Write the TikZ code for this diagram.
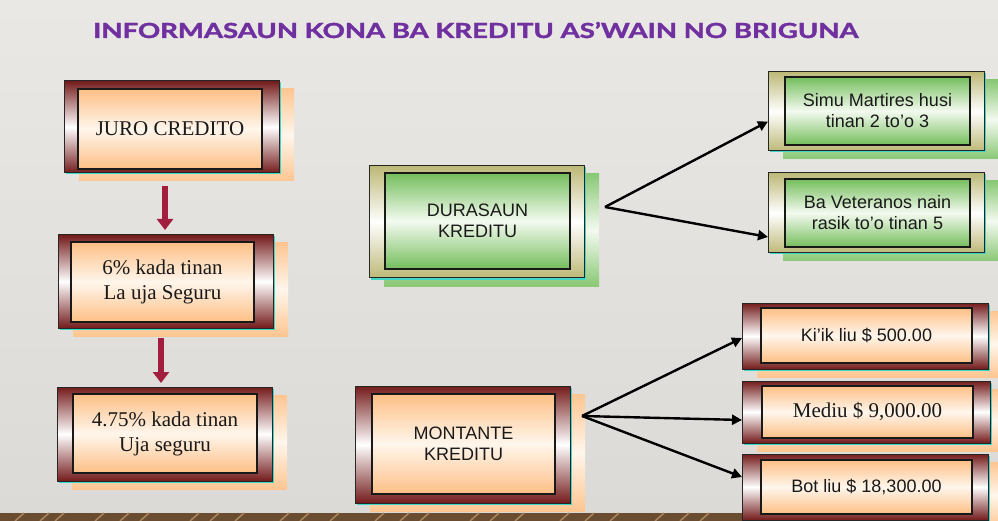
\documentclass[tikz,border=0pt]{standalone}
\usepackage{fontspec}
\setmainfont{Liberation Serif}
\newfontfamily\arialf{Liberation Sans}
\newfontfamily\titlef[BoldFeatures={FakeBold=1.6}]{Lato}
\usetikzlibrary{arrows.meta}
\definecolor{frameRed}{HTML}{741B1B}
\definecolor{peach}{HTML}{FDBF85}
\definecolor{peachlight}{HTML}{FFF6EC}
\definecolor{khaki}{HTML}{BDB977}
\definecolor{greenbox}{HTML}{74BE5C}
\definecolor{greenlight}{HTML}{F4FAF0}
\definecolor{glowc}{HTML}{3FD6C8}
\definecolor{titlepurple}{HTML}{7030A0}
\definecolor{arrowred}{HTML}{A11E3E}
\definecolor{bgtop}{HTML}{E9E8E5}
\definecolor{bgbot}{HTML}{DCDAD6}
\definecolor{floorbrown}{HTML}{6A4D30}
\definecolor{floorlight}{HTML}{A88760}
\newcommand\serift{\fontsize{21pt}{25pt}\selectfont}
\newcommand\sanst{\arialf\fontsize{18pt}{21pt}\selectfont}
\tikzset{
  redouter/.style={draw=black!85, line width=1pt, top color=frameRed, bottom color=frameRed, middle color=white, inner sep=0pt, outer sep=0pt},
  redinner/.style={draw=black!90, line width=1.1pt, top color=peach, bottom color=peach, middle color=peachlight, inner sep=0pt, outer sep=0pt, align=center, text=black!90},
  redshadow/.style={top color=peach!90, bottom color=peach!90, middle color=peachlight},
  greenouter/.style={draw=black!85, line width=1pt, top color=khaki, bottom color=khaki, middle color=white, inner sep=0pt, outer sep=0pt},
  greeninner/.style={draw=black!90, line width=1.1pt, top color=greenbox, bottom color=greenbox, middle color=greenlight, inner sep=0pt, outer sep=0pt, align=center, text=black!90},
  greenshadow/.style={top color=greenbox!85, bottom color=greenbox!85, middle color=greenlight},
  glow/.style={fill=glowc},
  blackarrow/.style={draw=black, line width=2.4pt, -{Triangle[length=10pt,width=10pt]}},
  redarrow/.style={draw=arrowred, line width=6pt, -{Triangle[length=11pt,width=16pt]}},
}
\newcommand\mkouter[6]{%
  \fill[#2shadow] ({#3+15},{#4+8}) rectangle ({#5+15},{#6+8});
  \fill[glow] ({#3+1.5},{#4+1.5}) rectangle ({#5+1.5},{#6+1.5});
  \node[#2outer, minimum width={#5-#3}, minimum height={#6-#4}] (#1) at ({(#3+#5)/2},{(#4+#6)/2}) {};
}
\newcommand\mkinner[8]{%
  \node[#2inner, minimum width={#5-#3}, minimum height={#6-#4}, font=#7] (#1) at ({(#3+#5)/2},{(#4+#6)/2}) {#8};
}
\begin{document}
\begin{tikzpicture}[x=1pt,y=-1pt]
\useasboundingbox (0,0) rectangle (998,521);
% background
\shade[top color=bgtop, bottom color=bgbot] (0,0) rectangle (998,513);
\fill[floorbrown] (0,513) rectangle (998,521);
\foreach \x in {15,40,55,95,120,140,190,210,235,280,300,330,375,400,420,470,490,515,560,585,610,655,680,700,745,770,795,840,860,885,930,950,975}
  \draw[floorlight, line width=1.5pt] (\x,521) -- ({\x+9},513);
% title
\node[anchor=base west, text=titlepurple, inner sep=0pt] (title) at (93,38)
  {\resizebox{765pt}{16pt}{\titlef\bfseries INFORMASAUN KONA BA KREDITU AS’WAIN NO BRIGUNA}};
% left column
\mkouter{juro}{red}{64}{81}{279}{173}
\mkinner{jurot}{red}{78}{89}{262}{169}{\serift}{JURO CREDITO}
\mkouter{pct}{red}{58}{235}{273}{328}
\mkinner{pctt}{red}{71}{242}{254}{322}{\serift}{6\% kada tinan\\La uja Seguru}
\mkouter{pctb}{red}{57}{387}{272}{481}
\mkinner{pctbt}{red}{73}{394}{257}{473}{\serift}{4.75\% kada tinan\\Uja seguru}
% middle
\mkouter{dura}{green}{369}{166}{584}{278}
\mkinner{durat}{green}{385}{173}{570}{269}{\sanst}{DURASAUN\\KREDITU}
\mkouter{mont}{red}{355}{386}{570}{503}
\mkinner{montt}{red}{372}{394}{555}{494}{\sanst}{MONTANTE\\KREDITU}
% right column
\mkouter{simu}{green}{768}{72}{984}{151}
\mkinner{simut}{green}{785}{77}{970}{145}{\sanst}{Simu Martires husi\\tinan 2 to’o 3}
\mkouter{vet}{green}{768}{173}{984}{253}
\mkinner{vett}{green}{785}{179}{970}{247}{\sanst}{Ba Veteranos nain\\rasik to’o tinan 5}
\mkouter{kiik}{red}{742}{303}{988}{369}
\mkinner{kiikt}{red}{761}{308}{972}{363}{\sanst}{Ki’ik liu \$ 500.00}
\mkouter{med}{red}{742}{381}{990}{443}
\mkinner{medt}{red}{762}{386}{973}{438}{\serift}{Mediu \$ 9,000.00}
\mkouter{bot}{red}{742}{454}{988}{520}
\mkinner{bott}{red}{761}{460}{972}{514}{\sanst}{Bot liu \$ 18,300.00}
% connectors
\coordinate (dsrc) at (605,207);
\coordinate (msrc) at (582,416);
\draw[blackarrow] (dsrc) -- ([yshift=-10pt]simu.west);
\draw[blackarrow] (dsrc) -- ([yshift=-24pt]vet.west);
\draw[blackarrow] (msrc) -- ([yshift=-2pt]kiik.west);
\draw[blackarrow] (msrc) -- ([yshift=-8pt]med.west);
\draw[blackarrow] (msrc) -- ([yshift=10pt]bot.west);
\draw[redarrow] ([xshift=-6.5pt,yshift=-13pt]juro.south) -- ([xshift=-0.5pt,yshift=5pt]pct.north);
\draw[redarrow] ([xshift=-4.5pt,yshift=-10pt]pct.south) -- ([xshift=-3.5pt,yshift=4pt]pctb.north);
\end{tikzpicture}
\end{document}
